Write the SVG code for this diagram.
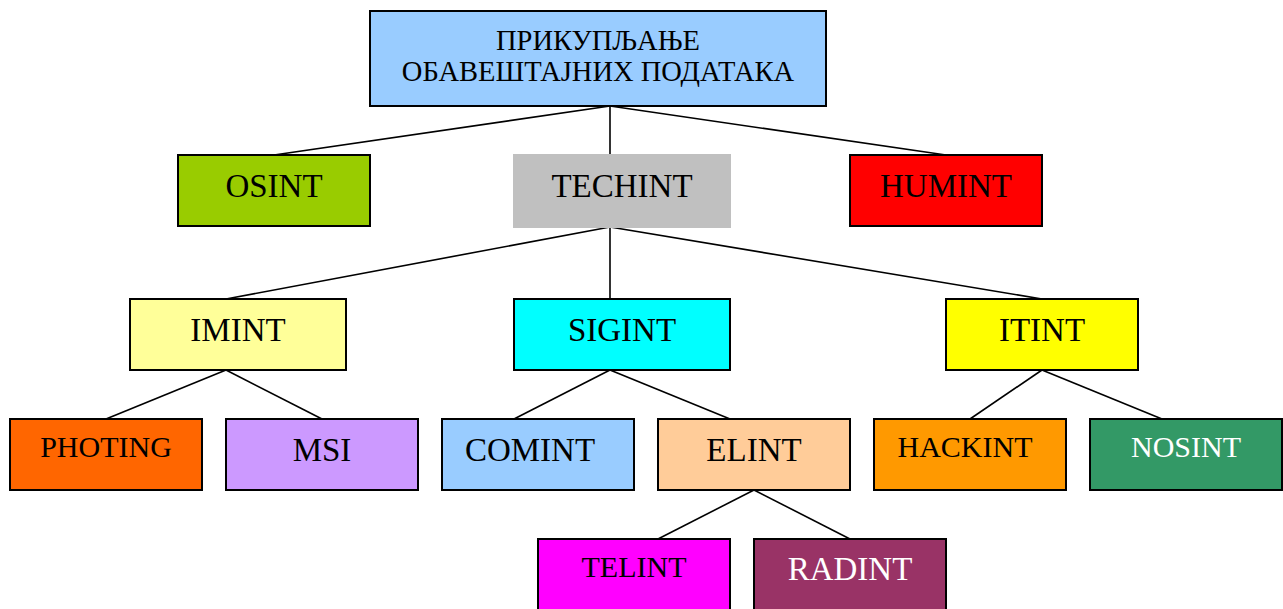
<svg xmlns="http://www.w3.org/2000/svg" width="1283" height="609" viewBox="0 0 1283 609">
<style>
  .box { stroke: #000; stroke-width: 2; }
  .t { font-family: "Liberation Serif", "DejaVu Serif", serif; font-size: 33px; text-anchor: middle; fill: #000; }
  .s { font-size: 30px; }
  .w { fill: #fff; }
  .top { font-size: 28.5px; }
  #connectors line { stroke: #000; stroke-width: 1.6; }
</style>
<rect width="1283" height="609" fill="#fff"/>
<g id="connectors">
  <line x1="610" y1="106" x2="274" y2="155"/>
  <line x1="610" y1="106" x2="610" y2="155"/>
  <line x1="610" y1="106" x2="946" y2="155"/>
  <line x1="610" y1="227" x2="226" y2="299"/>
  <line x1="610" y1="227" x2="610" y2="299"/>
  <line x1="610" y1="227" x2="1042" y2="299"/>
  <line x1="226" y1="370" x2="106" y2="419"/>
  <line x1="226" y1="370" x2="322" y2="419"/>
  <line x1="610" y1="370" x2="514" y2="419"/>
  <line x1="610" y1="370" x2="730" y2="419"/>
  <line x1="1042" y1="370" x2="970" y2="419"/>
  <line x1="1042" y1="370" x2="1162" y2="419"/>
  <line x1="754" y1="490" x2="658" y2="539"/>
  <line x1="754" y1="490" x2="850" y2="539"/>
</g>
<g id="root">
  <rect class="box" x="370" y="11" width="456" height="95" fill="#99CCFF"/>
  <text class="t top" x="598" y="50">ПРИКУПЉАЊЕ</text>
  <text class="t top" x="598" y="81">ОБАВЕШТАЈНИХ ПОДАТАКА</text>
</g>
<g id="osint">
  <rect class="box" x="178" y="155" width="192" height="71" fill="#99CC00"/>
  <text class="t" x="274" y="197">OSINT</text>
</g>
<g id="techint">
  <rect x="513" y="154" width="218" height="74" fill="#C0C0C0"/>
  <text class="t" x="622" y="197">TECHINT</text>
</g>
<g id="humint">
  <rect class="box" x="850" y="155" width="192" height="71" fill="#FF0000"/>
  <text class="t" x="946" y="197">HUMINT</text>
</g>
<g id="imint">
  <rect class="box" x="130" y="299" width="216" height="71" fill="#FFFF99"/>
  <text class="t" x="238" y="341">IMINT</text>
</g>
<g id="sigint">
  <rect class="box" x="514" y="299" width="216" height="71" fill="#00FFFF"/>
  <text class="t" x="622" y="341">SIGINT</text>
</g>
<g id="itint">
  <rect class="box" x="946" y="299" width="192" height="71" fill="#FFFF00"/>
  <text class="t" x="1042" y="341">ITINT</text>
</g>
<g id="photing">
  <rect class="box" x="10" y="419" width="192" height="71" fill="#FF6600"/>
  <text class="t s" x="106" y="457">PHOTING</text>
</g>
<g id="msi">
  <rect class="box" x="226" y="419" width="192" height="71" fill="#CC99FF"/>
  <text class="t" x="322" y="461">MSI</text>
</g>
<g id="comint">
  <rect class="box" x="442" y="419" width="192" height="71" fill="#99CCFF"/>
  <text class="t" x="530" y="461">COMINT</text>
</g>
<g id="elint">
  <rect class="box" x="658" y="419" width="192" height="71" fill="#FFCC99"/>
  <text class="t" x="754" y="461">ELINT</text>
</g>
<g id="hackint">
  <rect class="box" x="874" y="419" width="192" height="71" fill="#FF9900"/>
  <text class="t s" x="965" y="457">HACKINT</text>
</g>
<g id="nosint">
  <rect class="box" x="1090" y="419" width="192" height="71" fill="#339966"/>
  <text class="t s w" x="1186" y="457">NOSINT</text>
</g>
<g id="telint">
  <rect class="box" x="538" y="539" width="192" height="71" fill="#FF00FF"/>
  <text class="t s" x="634" y="577">TELINT</text>
</g>
<g id="radint">
  <rect class="box" x="754" y="539" width="192" height="71" fill="#993366"/>
  <text class="t w" x="850" y="580">RADINT</text>
</g>
</svg>
